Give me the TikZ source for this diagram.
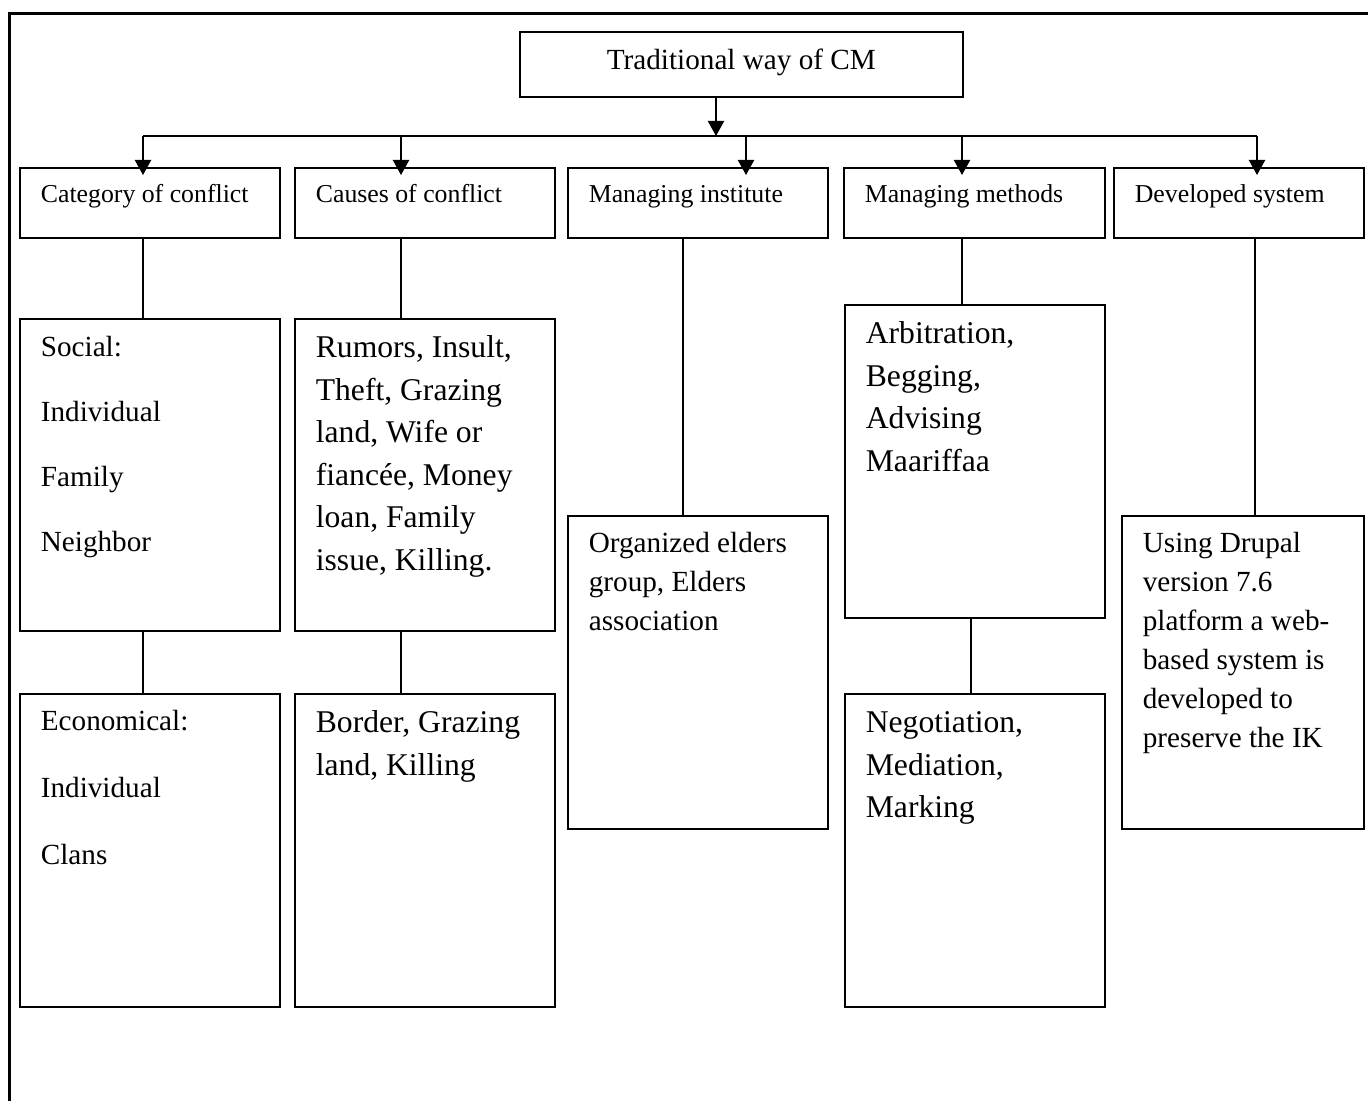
\documentclass[tikz,border=0pt]{standalone}
\usepackage{fontspec}
\setmainfont{Liberation Serif}
\usetikzlibrary{arrows.meta,calc}
\newdimen\pxu \pxu=0.411pt
% #1 width px, #2 height px, #3 first baseline offset px, #4 font pt, #5 baselineskip pt, #6 alignment, #7 text
\newcommand\boxtxt[7]{\parbox[t][#2\pxu][t]{#1\pxu}{\fontsize{#4}{#5}\selectfont #6%
  \vspace*{\dimexpr #3\pxu-\ht\strutbox\relax}\strut #7}}
\newcommand\lft{\raggedright\leftskip=21\pxu\relax}
\tikzset{
  box/.style={draw, line width=0.7pt, inner sep=0pt, anchor=north west},
  conn/.style={line width=0.7pt},
  arr/.style={line width=0.9pt, -{Triangle[length=6.2pt,width=6.6pt]}},
  frame/.style={line width=0.9pt}
}
\begin{document}
\begin{tikzpicture}[x=0.411pt, y=-0.411pt]
\path[fill=white, use as bounding box] (0,0) rectangle (1368,1101);
\draw[frame] (9.5,1101) -- (9.5,13.5) -- (1368,13.5);

% top
\node[box] (top) at (519,31) {\boxtxt{443}{65}{38}{12}{14}{\centering}{Traditional way of CM}};

% headers
\node[box] (h1) at (19,167)   {\boxtxt{260}{70}{35}{10.6}{13}{\lft}{Category of conflict}};
\node[box] (h2) at (294,167)  {\boxtxt{260}{70}{35}{10.6}{13}{\lft}{Causes of conflict}};
\node[box] (h3) at (567,167)  {\boxtxt{260}{70}{35}{10.6}{13}{\lft}{Managing institute}};
\node[box] (h4) at (843,167)  {\boxtxt{261}{70}{35}{10.6}{13}{\lft}{Managing methods}};
\node[box] (h5) at (1113,167) {\boxtxt{250}{70}{35}{10.6}{13}{\lft}{Developed system}};

% content boxes
\node[box] (soc) at (19,318)  {\boxtxt{260}{312}{38}{12}{26.7}{\lft}{Social:\\Individual\\Family\\Neighbor}};
\node[box] (eco) at (19,693)  {\boxtxt{260}{313}{37}{12}{27.5}{\lft}{Economical:\\Individual\\Clans}};
\node[box] (rum) at (294,318) {\boxtxt{260}{312}{39}{13}{17.47}{\lft}{Rumors, Insult,\\Theft, Grazing\\land, Wife or\\fiancée, Money\\loan, Family\\issue, Killing.}};
\node[box] (bor) at (294,693) {\boxtxt{260}{313}{39}{13}{17.47}{\lft}{Border, Grazing\\land, Killing}};
\node[box] (org) at (567,515) {\boxtxt{260}{313}{37}{12}{16}{\lft}{Organized elders\\group, Elders\\association}};
\node[box] (arb) at (844,304) {\boxtxt{260}{313}{39}{13}{17.47}{\lft}{Arbitration,\\Begging,\\Advising\\Maariffaa}};
\node[box] (neg) at (844,693) {\boxtxt{260}{313}{39}{13}{17.47}{\lft}{Negotiation,\\Mediation,\\Marking}};
\node[box] (dru) at (1121,515) {\boxtxt{242}{313}{37}{12}{16}{\lft}{Using Drupal\\version 7.6\\platform a web-\\based system is\\developed to\\preserve the IK}};

% distribution bar
\coordinate (c1) at (143,136);
\coordinate (c2) at (401,136);
\coordinate (c3) at (746,136);
\coordinate (c4) at (962,136);
\coordinate (c5) at (1257,136);
\coordinate (cm) at (716,136);
\coordinate (v3) at (683,136);
\coordinate (v4) at (971,136);
\coordinate (v5) at (1255,136);
\draw[conn] (c1) -- (c5);
\draw[arr] (cm |- top.south) -- (cm);
\foreach \c/\h in {c1/h1,c2/h2,c3/h3,c4/h4,c5/h5}
  \draw[arr, shorten >=-3.3pt] (\c) -- (\c |- \h.north);

% vertical links
\draw[conn] (c1 |- h1.south) -- (c1 |- soc.north);
\draw[conn] (c1 |- soc.south) -- (c1 |- eco.north);
\draw[conn] (c2 |- h2.south) -- (c2 |- rum.north);
\draw[conn] (c2 |- rum.south) -- (c2 |- bor.north);
\draw[conn] (v3 |- h3.south) -- (v3 |- org.north);
\draw[conn] (c4 |- h4.south) -- (c4 |- arb.north);
\draw[conn] (v4 |- arb.south) -- (v4 |- neg.north);
\draw[conn] (v5 |- h5.south) -- (v5 |- dru.north);
\end{tikzpicture}
\end{document}
